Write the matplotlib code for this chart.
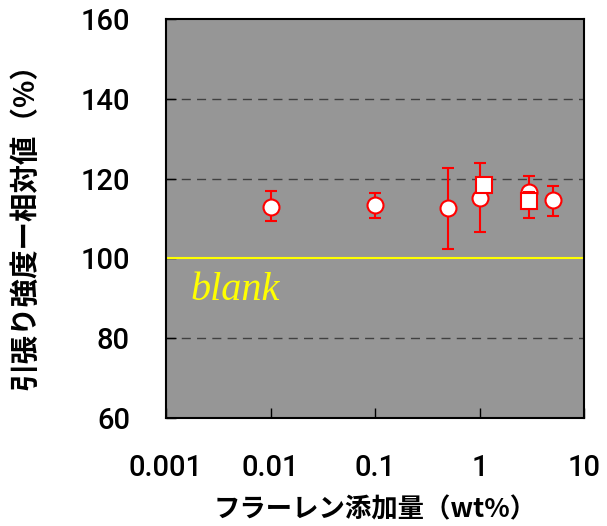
import matplotlib
matplotlib.use("Agg")
import matplotlib.pyplot as plt
import numpy as np

# data
circle_x = [0.01, 0.1, 0.5, 1.0, 3.0, 5.0]
circle_y = [113.0, 113.5, 112.7, 115.2, 116.7, 114.6]
circle_err_hi = [117.0, 116.5, 122.7, 123.8, 120.7, 118.1]
circle_err_lo = [109.3, 110.0, 102.3, 106.5, 112.3, 110.6]

square_x = [1.1, 3.0]
square_y = [118.3, 114.5]
square_err_hi = [118.3, 116.7]
square_err_lo = [118.3, 110.0]

blank_value = 100
x_ticks = [0.001, 0.01, 0.1, 1, 10]
x_tick_labels = ["0.001", "0.01", "0.1", "1", "10"]
y_ticks = [60, 80, 100, 120, 140, 160]

jp = ['Noto Sans CJK JP', 'DejaVu Sans']
num = ['Roboto', 'Liberation Sans', 'DejaVu Sans']

fig = plt.figure(figsize=(6.07, 5.26), dpi=100)
ax = fig.add_axes([166/607, 1-418/526, (584-166)/607, (418-19)/526])
ax.set_facecolor('#969696')

ax.set_xscale('log')
ax.set_xlim(0.001, 10)
ax.set_ylim(60, 160)

for gy in [80, 120, 140]:
    ax.axhline(gy, color='#404040', linestyle=(0, (6.5, 4.5)), linewidth=1.0, zorder=1)
ax.axhline(blank_value, color='#ffff00', linewidth=1.5, zorder=2)
ax.text(0.0017, 89.5, 'blank', color='#ffff00', fontsize=29, style='italic',
        family=['Liberation Serif', 'DejaVu Serif'], ha='left', va='baseline', zorder=3)

cy = np.array(circle_y)
ax.errorbar(circle_x, cy,
            yerr=[cy - np.array(circle_err_lo), np.array(circle_err_hi) - cy],
            fmt='o', color='red', mfc='white', mec='red', mew=1.5, ms=11.5,
            ecolor='red', elinewidth=1.5, capsize=4.5, capthick=1.5, zorder=4)
sy = np.array(square_y)
ax.errorbar(square_x, sy,
            yerr=[sy - np.array(square_err_lo), np.array(square_err_hi) - sy],
            fmt='s', color='red', mfc='white', mec='red', mew=1.5, ms=11,
            ecolor='red', elinewidth=1.5, capsize=4.5, capthick=1.5, zorder=5)

ax.set_xticks(x_ticks)
ax.set_xticklabels(x_tick_labels, family=num, fontsize=21, fontweight='medium')
ax.xaxis.set_minor_locator(matplotlib.ticker.NullLocator())
ax.set_yticks(y_ticks)
ax.set_yticklabels([str(v) for v in y_ticks], family=num, fontsize=21, fontweight='medium')
ax.tick_params(axis='both', direction='in', length=7, width=1, color='black')
ax.tick_params(axis='x', pad=26)
ax.tick_params(axis='y', pad=26)

for s in ax.spines.values():
    s.set_linewidth(1.5)
    s.set_color('black')

ax.set_xlabel('フラーレン添加量（wt%）', family=jp, fontsize=19, fontweight='bold')
ax.set_ylabel('引張り強度ー相対値（%）', family=jp, fontsize=20.5, fontweight='bold')
ax.xaxis.set_label_coords(0.5, (418-510)/399)
ax.yaxis.set_label_coords((25-166)/418, (418-220)/399)
ax.xaxis.label.set_va('center')
ax.yaxis.label.set_va('center')

fig.savefig('out.png', dpi=100)
